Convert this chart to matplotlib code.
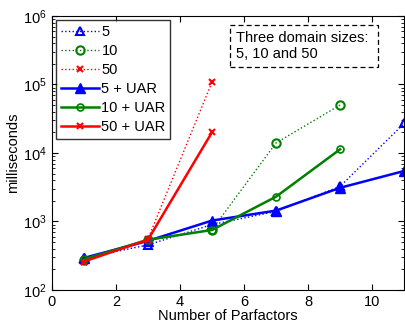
import matplotlib
matplotlib.use("Agg")
import matplotlib.pyplot as plt

plt.rcParams['font.family'] = ['Liberation Sans', 'DejaVu Sans']

x5 = [1, 3, 5, 7, 9, 11]
x10 = [1, 3, 5, 7, 9]
x50 = [1, 3, 5]

ms_5 = [290, 455, 900, 1400, 3250, 27000]
ms_10 = [270, 530, 760, 14000, 50000]
ms_50 = [258, 555, 108000]
ms_5_uar = [293, 520, 1030, 1440, 3100, 5450]
ms_10_uar = [280, 540, 750, 2300, 11300]
ms_50_uar = [260, 540, 20000]

fig = plt.figure(figsize=(4.05, 3.31), dpi=100)
ax = fig.add_axes([0.128, 0.124, 0.87, 0.828])

ax.plot(x5, ms_5, ':', color='b', marker='^', mfc='none', mec='b', ms=6, mew=1.5, lw=1, label='5')
ax.plot(x10, ms_10, ':', color='g', marker='o', mfc='none', mec='g', ms=6, mew=1.5, lw=1, label='10')
ax.plot(x50, ms_50, ':', color='r', marker='x', ms=4, mew=1.5, lw=1, label='50')
ax.plot(x5, ms_5_uar, '-', color='b', marker='^', mfc='b', ms=7, lw=1.8, label='5 + UAR')
ax.plot(x10, ms_10_uar, '-', color='g', marker='o', mfc='none', mec='g', ms=5, mew=1.2, lw=1.8, label='10 + UAR')
ax.plot(x50, ms_50_uar, '-', color='r', marker='x', ms=4, mew=1.5, lw=1.8, label='50 + UAR')

ax.set_yscale('log')
ax.set_xlim(0, 11)
ax.set_ylim(1e2, 1e6)
ax.set_xticks([0, 2, 4, 6, 8, 10])
ax.tick_params(which='both', direction='in', top=True, right=True, labelsize=10.5)
ax.tick_params(which='major', length=4)
ax.tick_params(which='minor', length=2)
ax.set_xlabel('Number of Parfactors', fontsize=10.5, labelpad=0)
ax.set_ylabel('milliseconds', fontsize=10.5, labelpad=2)

leg = ax.legend(loc='upper left', fontsize=10.5, frameon=True, fancybox=False,
                edgecolor='k', handlelength=2.6, borderaxespad=0.3,
                labelspacing=0.35, handletextpad=0.2, borderpad=0.3)
leg.get_frame().set_linewidth(1)

ax.text(0.523, 0.945, 'Three domain sizes: \n5, 10 and 50', transform=ax.transAxes,
        fontsize=10.5, va='top', ha='left', linespacing=1.2,
        bbox=dict(boxstyle='square,pad=0.4', fc='w', ec='k', ls=(0, (4, 2.5)), lw=0.9))

fig.savefig('out.png', dpi=100)
